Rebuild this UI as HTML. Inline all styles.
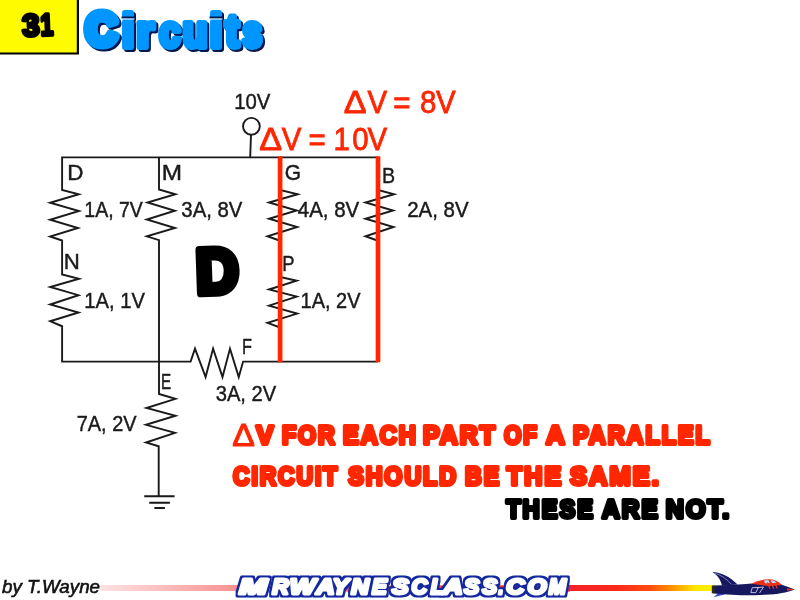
<!DOCTYPE html>
<html lang="en">
<head>
<meta charset="utf-8">
<title>31 Circuits</title>
<style>
  html, body { margin: 0; padding: 0; background: #ffffff; }
  body { width: 800px; height: 600px; overflow: hidden; position: relative; }
  svg { position: absolute; left: 0; top: 0; display: block; will-change: transform; }
  text { font-family: "Liberation Sans", sans-serif; }
  .lbl { font-size: 22.5px; fill: #1a1a1a; stroke: #1a1a1a; stroke-width: 0.45; }
  .wire { fill: none; stroke: #1a1a1a; stroke-width: 1.9; stroke-linejoin: miter; stroke-linecap: butt; }
  .redline { stroke: #ff2600; stroke-width: 4.7; fill: none; }
  .gill { font-size: 32px; fill: #ff2600; stroke: #ff2600; stroke-width: 0.8; }
  .chunk { font-weight: bold; stroke-linejoin: round; stroke-linecap: round; }
</style>
</head>
<body>
<svg width="800" height="600" viewBox="0 0 800 600">
  <defs>
    <linearGradient id="gleft" x1="0" y1="0" x2="1" y2="0">
      <stop offset="0" stop-color="#fde3e3"/>
      <stop offset="1" stop-color="#f88f8f"/>
    </linearGradient>
    <linearGradient id="gmid" x1="0" y1="0" x2="1" y2="0">
      <stop offset="0" stop-color="#f88f8f"/>
      <stop offset="0.5" stop-color="#f54a4e"/>
      <stop offset="0.8" stop-color="#f4252e"/>
      <stop offset="1" stop-color="#f4202c"/>
    </linearGradient>
    <linearGradient id="gright" x1="0" y1="0" x2="1" y2="0">
      <stop offset="0" stop-color="#f4202c"/>
      <stop offset="0.35" stop-color="#fb2a1a"/>
      <stop offset="0.57" stop-color="#ff4a10"/>
      <stop offset="0.74" stop-color="#ff9a00"/>
      <stop offset="0.88" stop-color="#ffe600"/>
      <stop offset="1" stop-color="#fff200"/>
    </linearGradient>
    <filter id="titleshadow" filterUnits="userSpaceOnUse" x="70" y="0" width="210" height="70" color-interpolation-filters="sRGB">
      <feOffset in="SourceAlpha" dx="1.5" dy="1.5" result="off"/>
      <feFlood flood-color="#06174a"/>
      <feComposite in2="off" operator="in" result="shadow"/>
      <feMerge><feMergeNode in="shadow"/><feMergeNode in="SourceGraphic"/></feMerge>
    </filter>
    <filter id="logooutline" filterUnits="userSpaceOnUse" x="225" y="565" width="360" height="35" color-interpolation-filters="sRGB">
      <feMorphology in="SourceAlpha" operator="dilate" radius="2.3" result="fat"/>
      <feFlood flood-color="#13289f"/>
      <feComposite in2="fat" operator="in" result="outline"/>
      <feMerge><feMergeNode in="outline"/><feMergeNode in="SourceGraphic"/></feMerge>
    </filter>
  </defs>

  <!-- header number box -->
  <rect x="0" y="0" width="79" height="54.5" fill="#000"/>
  <rect x="0" y="0" width="76.8" height="52.5" fill="#fffb00"/>
  <text class="chunk" y="35.7" font-size="30.9" fill="#000" stroke="#000" stroke-width="3.6" transform="rotate(-2 37 25)"><tspan x="22.11" textLength="17.49" lengthAdjust="spacingAndGlyphs">3</tspan><tspan x="40.49" textLength="12.81" lengthAdjust="spacingAndGlyphs">1</tspan></text>

  <!-- title -->
  <g class="chunk" font-size="46" stroke-width="6">
    <text fill="#0096ff" stroke="#0096ff" filter="url(#titleshadow)"><tspan x="85.52" y="45.0" textLength="31.46" lengthAdjust="spacingAndGlyphs" font-size="46.6" stroke-width="9">C</tspan><tspan x="121.73" y="46.6" textLength="12.57" lengthAdjust="spacingAndGlyphs" font-size="46.9">i</tspan><tspan x="136.43" y="46.6" textLength="17.46" lengthAdjust="spacingAndGlyphs" font-size="43.6">r</tspan><tspan x="159.14" y="46.6" textLength="21.34" lengthAdjust="spacingAndGlyphs" font-size="43.6">c</tspan><tspan x="182.77" y="46.6" textLength="24.61" lengthAdjust="spacingAndGlyphs" font-size="43.6">u</tspan><tspan x="209.73" y="46.6" textLength="12.57" lengthAdjust="spacingAndGlyphs" font-size="46.9">i</tspan><tspan x="225.17" y="46.6" textLength="13.91" lengthAdjust="spacingAndGlyphs" font-size="46.8">t</tspan><tspan x="242.44" y="46.6" textLength="19.59" lengthAdjust="spacingAndGlyphs" font-size="43.6">s</tspan></text>
  </g>
  <!-- gaps under the i dots -->
  <path d="M121.5 16.6 H135.8 V18.6 H121.5 Z M209.5 16.6 H223.8 V18.6 H209.5 Z" fill="#06174a"/>
  <path d="M121.5 18.6 H134.5 V19.5 H121.5 Z M209.5 18.6 H222.5 V19.5 H209.5 Z" fill="#ffffff"/>

  <!-- circuit wires -->
  <g class="wire">
    <!-- top rail -->
    <path d="M61.25 157.4 H378"/>
    <!-- source terminal -->
    <circle cx="251.4" cy="126.3" r="8.4"/>
    <path d="M251 134.7 L250.2 157.4"/>
    <!-- D / N branch -->
    <path d="M62.1 157.4 V190 L78.8 194.25 L50.1 202.75 L79.0 211 L50.1 219.75 L78.0 228 L50.1 236.5 L62.1 240.5 V274.4 L79.1 278.75 L50.2 287 L78.5 295.2 L50.2 304.5 L78.5 312.5 L50.2 321.25 L62.1 326.25 V361.6"/>
    <!-- M branch -->
    <path d="M159 157.4 V189.5 L175.4 194.25 L147.5 202.5 L174.9 210.75 L146.8 219.5 L175.0 228 L146.8 236.3 L159.0 240.2 V394 L175.5 398.9 L146.5 408 L175.5 415.75 L146.0 424.8 L175.0 432.8 L146.0 442.5 L158.7 446.25 V496.3"/>
    <!-- bottom rail with F resistor -->
    <path d="M61.25 361.6 H190.6 L195 348.6 L205.6 377.05 L213.1 348.6 L222.5 377.05 L230 348.6 L238.75 377.05 L243.1 361.6 H378"/>
    <!-- G / P branch -->
    <path d="M280.1 157.4 V190 L297.7 194.25 L269.0 202.5 L296.7 210.5 L269.0 218.75 L297.25 227 L267.5 236.25 L280.1 240.75 V277 L296.7 280.7 L269.0 289.5 L296.7 296.6 L269.0 305.6 L297.25 313.6 L267.5 322.8 L280.1 327.5 V361.6"/>
    <!-- B branch -->
    <path d="M378 157.4 V190 L394.1 194.25 L365.5 202.5 L393.1 210.5 L365.5 218.75 L393.5 227 L365.5 236.25 L378.0 240.75 V361.6"/>
    <!-- ground -->
    <path d="M144.25 496.3 H174.6 M149.2 502.8 H169.9 M154.4 508 H164.9"/>
  </g>

  <!-- red highlight branches -->
  <path class="redline" d="M280.1 156.2 V362.2"/>
  <path class="redline" d="M378 156.2 V362.2"/>

  <!-- circuit labels -->
  <g class="lbl">
    <text x="234.18" y="109.2" textLength="36.19" lengthAdjust="spacingAndGlyphs">10V</text>
    <text x="67.13" y="180" textLength="16.22" lengthAdjust="spacingAndGlyphs">D</text>
    <text x="161.73" y="180.25" textLength="20.30" lengthAdjust="spacingAndGlyphs">M</text>
    <text x="284.77" y="179.8" textLength="16.32" lengthAdjust="spacingAndGlyphs">G</text>
    <text x="382.11" y="183" textLength="13.10" lengthAdjust="spacingAndGlyphs">B</text>
    <text x="63.65" y="269.4" textLength="16.03" lengthAdjust="spacingAndGlyphs">N</text>
    <text x="282.21" y="270.6" textLength="12.28" lengthAdjust="spacingAndGlyphs">P</text>
    <text x="241.99" y="353.5" textLength="9.94" lengthAdjust="spacingAndGlyphs">F</text>
    <text x="160.88" y="389.4" textLength="10.15" lengthAdjust="spacingAndGlyphs">E</text>
    <text x="84.34" y="217" textLength="58.52" lengthAdjust="spacingAndGlyphs">1A, 7V</text>
    <text x="181.35" y="216.75" textLength="61.01" lengthAdjust="spacingAndGlyphs">3A, 8V</text>
    <text x="297.75" y="216.75" textLength="61.51" lengthAdjust="spacingAndGlyphs">4A, 8V</text>
    <text x="407.20" y="216.75" textLength="61.42" lengthAdjust="spacingAndGlyphs">2A, 8V</text>
    <text x="84.29" y="307.5" textLength="60.58" lengthAdjust="spacingAndGlyphs">1A, 1V</text>
    <text x="300.61" y="308" textLength="59.86" lengthAdjust="spacingAndGlyphs">1A, 2V</text>
    <text x="215.71" y="401.25" textLength="60.40" lengthAdjust="spacingAndGlyphs">3A, 2V</text>
    <text x="76.70" y="430.5" textLength="59.91" lengthAdjust="spacingAndGlyphs">7A, 2V</text>
  </g>

  <!-- big answer letter -->
  <text class="chunk" transform="rotate(-2 218 271) translate(196.07 292.7) scale(0.932 1)" x="0" y="0" font-size="63" fill="#000" stroke="#000" stroke-width="8">D</text>

  <!-- red annotations -->
  <g class="gill">
    <text transform="scale(1.07 1)" x="321.38" y="113.2">Δ</text>
    <text transform="scale(0.92 1)" x="399.38 425.72 427.48 451.17 456.45 473.84" y="113.2">V = 8V</text>
    <text transform="scale(1.07 1)" x="242.41" y="150">Δ</text>
    <text transform="scale(0.92 1)" x="306.18 332.52 335.37 359.06 362.46 382.81 399.46" y="150">V = 10V</text>
  </g>

  <!-- explanation text -->
  <g font-size="31.8" stroke-width="1" fill="#ff2600" stroke="#ff2600">
    <text x="232.27" y="445.8" textLength="22.62" lengthAdjust="spacingAndGlyphs" letter-spacing="0">Δ</text>
  </g>
  <g class="chunk" font-size="26.6" stroke-width="4" letter-spacing="2.2" fill="#ff2600" stroke="#ff2600">
    <text x="256.15" y="444.3" textLength="17.10" lengthAdjust="spacingAndGlyphs" letter-spacing="0">V</text>
    <text x="282.00" y="444.3" textLength="54.80" lengthAdjust="spacingAndGlyphs">FOR</text>
    <text x="343.00" y="444.3" textLength="74.80" lengthAdjust="spacingAndGlyphs">EACH</text>
    <text x="423.00" y="444.3" textLength="74.00" lengthAdjust="spacingAndGlyphs">PART</text>
    <text x="504.00" y="444.3" textLength="35.00" lengthAdjust="spacingAndGlyphs">OF</text>
    <text x="546.00" y="444.3" textLength="20.80" lengthAdjust="spacingAndGlyphs">A</text>
    <text x="573.00" y="444.3" textLength="138.80" lengthAdjust="spacingAndGlyphs">PARALLEL</text>
    <text x="233.00" y="484.5" textLength="106.00" lengthAdjust="spacingAndGlyphs">CIRCUIT</text>
    <text x="348.20" y="484.5" textLength="109.80" lengthAdjust="spacingAndGlyphs">SHOULD</text>
    <text x="465.00" y="484.5" textLength="36.00" lengthAdjust="spacingAndGlyphs">BE</text>
    <text x="506.80" y="484.5" textLength="56.40" lengthAdjust="spacingAndGlyphs">THE</text>
    <text x="570.00" y="484.5" textLength="91.00" lengthAdjust="spacingAndGlyphs">SAME.</text>
  </g>
  <g class="chunk" font-size="26.6" stroke-width="4" letter-spacing="2.2" fill="#000000" stroke="#000000">
    <text x="506.20" y="518" textLength="88.80" lengthAdjust="spacingAndGlyphs">THESE</text>
    <text x="602.00" y="518" textLength="58.00" lengthAdjust="spacingAndGlyphs">ARE</text>
    <text x="665.80" y="518" textLength="65.40" lengthAdjust="spacingAndGlyphs">NOT.</text>
  </g>

  <!-- footer -->
  <text x="2" y="592.5" font-size="19" font-style="italic" fill="#111" stroke="#111" stroke-width="0.6" textLength="98" lengthAdjust="spacingAndGlyphs">by T.Wayne</text>
  <rect x="100" y="585" width="140" height="6" fill="url(#gleft)"/>
  <rect x="565" y="585" width="148" height="6" fill="url(#gright)"/>
  <rect x="236" y="585.4" width="334" height="6.2" fill="url(#gmid)"/>
  <g font-size="21.8" font-weight="bold" font-style="italic" stroke-linejoin="round">
    <text y="593.8" fill="#ffffff" stroke="#ffffff" stroke-width="3.0" filter="url(#logooutline)"><tspan x="239.31" textLength="27.81" lengthAdjust="spacingAndGlyphs">M</tspan><tspan x="272.17" textLength="16.43" lengthAdjust="spacingAndGlyphs">R</tspan><tspan x="289.88" textLength="25.79" lengthAdjust="spacingAndGlyphs">W</tspan><tspan x="316.27" textLength="18.32" lengthAdjust="spacingAndGlyphs">A</tspan><tspan x="332.64" textLength="15.92" lengthAdjust="spacingAndGlyphs">Y</tspan><tspan x="351.25" textLength="17.65" lengthAdjust="spacingAndGlyphs">N</tspan><tspan x="372.14" textLength="14.79" lengthAdjust="spacingAndGlyphs">E</tspan><tspan x="391.91" textLength="16.63" lengthAdjust="spacingAndGlyphs">S</tspan><tspan x="411.44" textLength="15.80" lengthAdjust="spacingAndGlyphs">C</tspan><tspan x="430.70" textLength="13.08" lengthAdjust="spacingAndGlyphs">L</tspan><tspan x="443.03" textLength="19.66" lengthAdjust="spacingAndGlyphs">A</tspan><tspan x="463.90" textLength="15.26" lengthAdjust="spacingAndGlyphs">S</tspan><tspan x="482.26" textLength="14.84" lengthAdjust="spacingAndGlyphs">S</tspan><tspan x="498.61" textLength="4.88" lengthAdjust="spacingAndGlyphs">.</tspan><tspan x="506.30" textLength="18.17" lengthAdjust="spacingAndGlyphs">C</tspan><tspan x="527.49" textLength="19.03" lengthAdjust="spacingAndGlyphs">O</tspan><tspan x="548.87" textLength="17.34" lengthAdjust="spacingAndGlyphs">M</tspan></text>
  </g>

  <!-- rocket -->
  <g>
    <path d="M712.5 572 C720 572.3 731 577 737.5 584.6 L722 585.8 C721 580.5 718 575.5 712.5 572 Z" fill="#17175f"/>
    <path d="M714.5 573.2 C721 575 727 579 731.5 584.5" fill="none" stroke="#8f9be6" stroke-width="0.8"/>
    <path d="M713.5 597.2 L720 591.6 L730.5 590.6 L723.5 594.8 Z" fill="#3d4cc4"/>
    <path d="M713 585.6 C725 585.1 740 584.6 752 583.5 L781 584.6 C786 586 791 588 794.5 589.5 C790 591.6 782 593.6 770 594.6 C755 595.7 735 595.7 714 593.6 Z" fill="#17175f"/>
    <path d="M751.5 583.8 C757 580.6 764 579 770 579.2 C775 579.5 779 581.6 782 584.9 L769 586.2 Z" fill="#e8321c"/>
    <path d="M763.8 580.4 L768.3 579.9 L769.8 583 L765.3 583.4 Z M770.6 580 L774 580.6 L776.6 583.1 L772 583 Z" fill="#bcd7f2"/>
    <path d="M767.3 582.6 L770 588.8 M771 582.6 L773.7 588.8 M774.7 583 L777.3 588.6" fill="none" stroke="#e8321c" stroke-width="1.2"/>
    <path d="M752.3 587.6 H758.3 L755.8 592.6 H750.8 Z M757 587.6 L763.5 587 L759.5 593" fill="none" stroke="#dfe6ff" stroke-width="0.8"/>
    <path d="M787 588.2 L795 589.5 L787 590.8 Z" fill="#e8321c"/>
    <rect x="711.8" y="585.4" width="3.2" height="8" rx="1.2" fill="#2b2b2b"/>
  </g>
</svg>
</body>
</html>
